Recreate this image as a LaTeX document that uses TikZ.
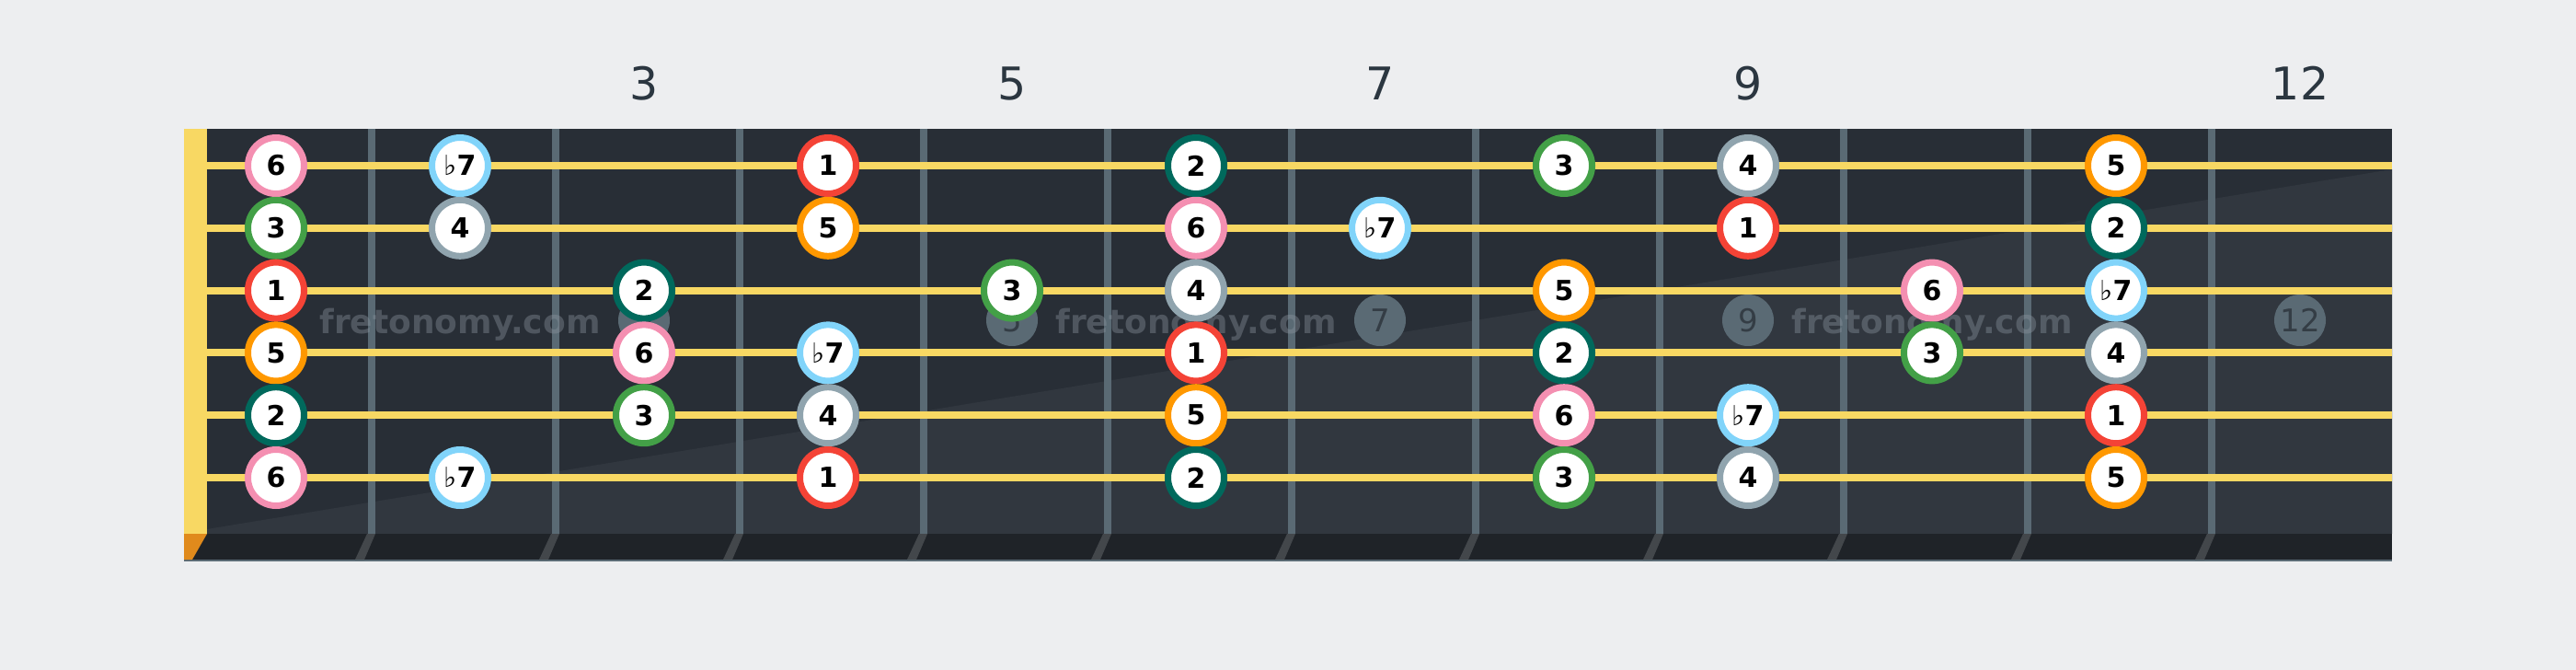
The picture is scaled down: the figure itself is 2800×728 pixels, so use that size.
\documentclass[tikz,border=0pt]{standalone}
\usepackage{fontspec}
\setmainfont{DejaVu Sans}
\definecolor{bg}{HTML}{EDEEF0}
\definecolor{board}{HTML}{282E36}
\definecolor{boardlt}{HTML}{31373F}
\definecolor{stripc}{HTML}{1F2328}
\definecolor{fretc}{HTML}{5A6A74}
\definecolor{stripfret}{HTML}{43474B}
\definecolor{stringc}{HTML}{F8D863}
\definecolor{nutorange}{HTML}{E08A1C}
\definecolor{inlayc}{HTML}{5A6A74}
\definecolor{inlaytext}{HTML}{343D45}
\definecolor{labelc}{HTML}{2B3640}
\definecolor{wmark}{HTML}{8F99A3}
\definecolor{c1}{HTML}{F44336}
\definecolor{c2}{HTML}{00695C}
\definecolor{c3}{HTML}{43A047}
\definecolor{c4}{HTML}{90A4AE}
\definecolor{c5}{HTML}{FF9800}
\definecolor{c6}{HTML}{F48FB1}
\definecolor{c7}{HTML}{81D4FA}
\newcommand\flatseven{{\mdseries ♭}7}
\begin{document}
\begin{tikzpicture}[x=1pt,y=-1pt,
  notebox/.style={circle,fill=white,line width=7pt,minimum size=61pt,inner sep=0pt,
    font=\fontsize{30}{30}\selectfont\bfseries,text=black},
  inlaybox/.style={circle,fill=inlayc,minimum size=56pt,inner sep=0pt,
    font=\fontsize{34}{34}\selectfont,text=inlaytext},
  fretlabel/.style={anchor=base,font=\fontsize{49}{49}\selectfont,text=labelc,inner sep=0pt},
  wmarkbox/.style={anchor=base,font=\fontsize{36}{36}\selectfont\bfseries,text=wmark,text opacity=0.38,inner sep=0pt}]
\newcommand\nt[3]{\node[notebox,draw=c#3] (n#1-#2) at ({100+200*#2},{180+67.8*(#1-1)}) {\ifnum#3=7 \flatseven\else#3\fi};}
\fill[bg] (0,0) rectangle (2800,728);
\useasboundingbox (0,0) rectangle (2800,728);
% board
\fill[board] (200,140) rectangle (2600,580);
\fill[boardlt] (200,579) -- (225,575) -- (2600,184) -- (2600,580) -- (200,580) -- cycle;
\fill[stripc] (200,580) rectangle (2600,608);
\draw[fretc,line width=2pt] (200,609) -- (2600,609);
% frets
\foreach \n in {1,...,11} {
  \fill[fretc] ({200+200*\n},140) rectangle ({208+200*\n},580);
  \fill[stripfret] ({199+200*\n},580) -- ({208+200*\n},580) -- ({196+200*\n},608) -- ({186+200*\n},608) -- cycle;
}
% strings
\foreach \s in {0,...,5}
  \draw[stringc,line width=8pt] (200,{180+67.8*\s}) -- (2600,{180+67.8*\s});
% nut
\fill[stringc] (200,140) rectangle (225,580);
\fill[nutorange] (200,580) -- (225,580) -- (209,608) -- (200,608) -- cycle;
% inlays
\foreach \c in {3,5,7,9,12}
  \node[inlaybox] (inl\c) at ({100+200*\c},348) {\c};
% fret numbers
\foreach \c in {3,5,7,9,12}
  \node[fretlabel] (lab\c) at ({100+200*\c},108) {\c};
% watermarks
\node[wmarkbox] (wm1) at (500,362) {fretonomy.com};
\node[wmarkbox] (wm2) at (1300,362) {fretonomy.com};
\node[wmarkbox] (wm3) at (2100,362) {fretonomy.com};
% notes
\nt{1}{1}{6}\nt{1}{2}{7}\nt{1}{4}{1}\nt{1}{6}{2}\nt{1}{8}{3}\nt{1}{9}{4}\nt{1}{11}{5}
\nt{2}{1}{3}\nt{2}{2}{4}\nt{2}{4}{5}\nt{2}{6}{6}\nt{2}{7}{7}\nt{2}{9}{1}\nt{2}{11}{2}
\nt{3}{1}{1}\nt{3}{3}{2}\nt{3}{5}{3}\nt{3}{6}{4}\nt{3}{8}{5}\nt{3}{10}{6}\nt{3}{11}{7}
\nt{4}{1}{5}\nt{4}{3}{6}\nt{4}{4}{7}\nt{4}{6}{1}\nt{4}{8}{2}\nt{4}{10}{3}\nt{4}{11}{4}
\nt{5}{1}{2}\nt{5}{3}{3}\nt{5}{4}{4}\nt{5}{6}{5}\nt{5}{8}{6}\nt{5}{9}{7}\nt{5}{11}{1}
\nt{6}{1}{6}\nt{6}{2}{7}\nt{6}{4}{1}\nt{6}{6}{2}\nt{6}{8}{3}\nt{6}{9}{4}\nt{6}{11}{5}
\end{tikzpicture}
\end{document}
